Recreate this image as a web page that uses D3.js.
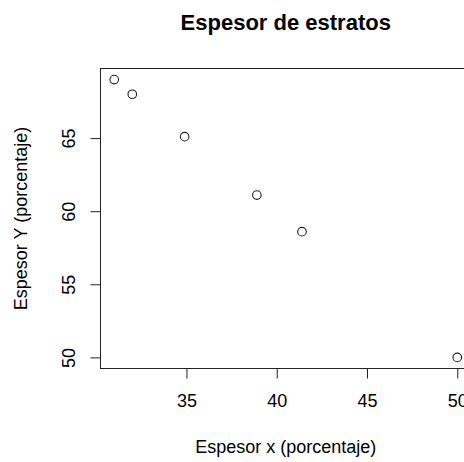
<!DOCTYPE html>
<html>
<head>
<meta charset="utf-8">
<script src="https://cdn.jsdelivr.net/npm/d3@7"></script>
<style>
  html, body { margin: 0; padding: 0; background: #fff; }
  svg { display: block; }
  text { font-family: "Liberation Sans", Arial, sans-serif; fill: #000; }
</style>
</head>
<body>
<svg id="chart" width="464" height="462"></svg>
<script>
// Data
const espesorX = [31.0, 32.0, 34.9, 38.9, 41.4, 50.0];
const espesorY = [69.0, 68.0, 65.1, 61.1, 58.6, 50.0];
const xTicks = [35, 40, 45, 50];
const yTicks = [50, 55, 60, 65];
const titleText = "Espesor de estratos";
const xLabel = "Espesor x (porcentaje)";
const yLabel = "Espesor Y (porcentaje)";

const W = 464, H = 462;
const plot = { left: 100.5, right: 471, top: 68.5, bottom: 368.5 };

function rExtent(vals) {
  const [a, b] = d3.extent(vals);
  const pad = (b - a) * 0.04;
  return [a - pad, b + pad];
}

const x = d3.scaleLinear().domain(rExtent(espesorX)).range([plot.left, plot.right]);
const y = d3.scaleLinear().domain(rExtent(espesorY)).range([plot.bottom, plot.top]);

const svg = d3.select("#chart");
const baseFont = 18;
const fontFam = "Liberation Sans, Arial, sans-serif";

// Box
svg.append("rect")
  .attr("x", plot.left).attr("y", plot.top)
  .attr("width", plot.right - plot.left).attr("height", plot.bottom - plot.top)
  .attr("fill", "none").attr("stroke", "#222").attr("stroke-width", 1);

// X axis
const xAxis = svg.append("g")
  .attr("transform", `translate(0,${plot.bottom})`)
  .call(d3.axisBottom(x).tickValues(xTicks).tickSize(10).tickPadding(16).tickFormat(d3.format("d")));
xAxis.select(".domain").remove();
xAxis.selectAll("line").attr("stroke", "#222");
xAxis.selectAll("text").attr("font-size", baseFont).attr("font-family", fontFam).attr("fill", "#000");

// Y axis
const yAxis = svg.append("g")
  .attr("transform", `translate(${plot.left},0)`)
  .call(d3.axisLeft(y).tickValues(yTicks).tickSize(10).tickFormat(d3.format("d")));
yAxis.select(".domain").remove();
yAxis.selectAll("line").attr("stroke", "#222");
yAxis.selectAll("text")
  .attr("font-size", baseFont).attr("font-family", fontFam).attr("fill", "#000")
  .attr("x", null)
  .attr("text-anchor", "middle")
  .attr("transform", "translate(-32,0) rotate(-90)")
  .attr("dy", "0.35em");

// Points
svg.append("g").selectAll("circle")
  .data(espesorX.map((v, i) => [v, espesorY[i]]))
  .join("circle")
  .attr("cx", d => x(d[0]))
  .attr("cy", d => y(d[1]))
  .attr("r", 4.3)
  .attr("fill", "none")
  .attr("stroke", "#222")
  .attr("stroke-width", 1.1);

// Title
svg.append("text")
  .attr("x", (plot.left + plot.right) / 2)
  .attr("y", 30)
  .attr("text-anchor", "middle")
  .attr("font-size", 22)
  .attr("font-weight", "bold")
  .text(titleText);

// X label
svg.append("text")
  .attr("x", (plot.left + plot.right) / 2)
  .attr("y", 453)
  .attr("text-anchor", "middle")
  .attr("font-size", baseFont)
  .text(xLabel);

// Y label
svg.append("text")
  .attr("transform", `translate(27,${(plot.top + plot.bottom) / 2}) rotate(-90)`)
  .attr("text-anchor", "middle")
  .attr("font-size", baseFont)
  .text(yLabel);
</script>
</body>
</html>
